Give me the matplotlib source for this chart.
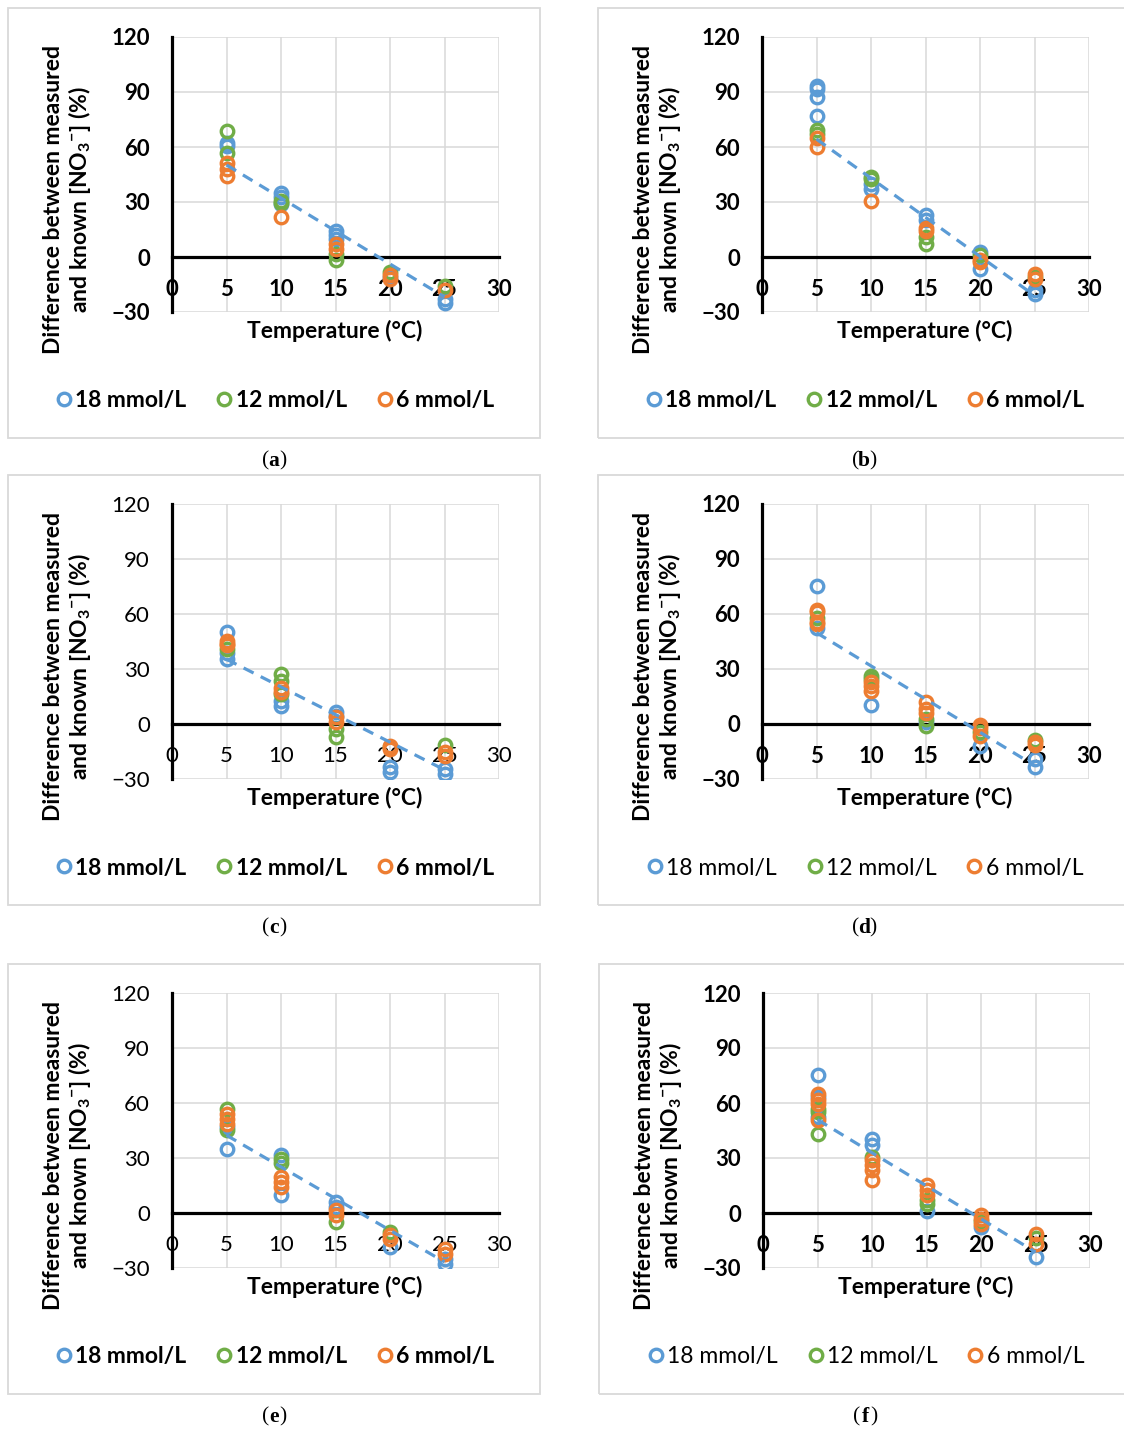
import matplotlib
matplotlib.use("Agg")
import matplotlib.pyplot as plt
from matplotlib.patches import Rectangle

plt.rcParams['font.family'] = ['Lato', 'DejaVu Sans']
plt.rcParams['mathtext.fontset'] = 'custom'
plt.rcParams['mathtext.rm'] = 'Lato:bold'
plt.rcParams['mathtext.default'] = 'rm'

W, H = 1124, 1432

series_names = ['18 mmol/L', '12 mmol/L', '6 mmol/L']
series_colors = ['#5B9BD5', '#70AD47', '#ED7D31']
trend_x = [5, 25]
x_ticks = [0, 5, 10, 15, 20, 25, 30]
y_ticks = [-30, 0, 30, 60, 90, 120]

# panel (a)
a18_t = [5, 5, 10, 10, 10, 15, 15, 15, 20, 25, 25]
a18_v = [62, 60.7, 35, 32.6, 29, 14, 11.8, 10, -11, -22.7, -25]
a12_t = [5, 5, 10, 10, 15, 15, 20, 25]
a12_v = [68.9, 56.5, 30.8, 29.4, 1.8, -1.5, -8, -16]
a6_t = [5, 5, 5, 10, 15, 15, 20, 20, 25]
a6_v = [51, 48, 44, 21.7, 7, 4.5, -10, -12, -18]
a_trend = [50.2, -21.8]

# panel (b)
b18_t = [5, 5, 5, 5, 10, 10, 15, 15, 20, 20, 25, 25]
b18_v = [93, 91.5, 87.4, 77, 39.9, 37.2, 23, 20, 2.7, -6.3, -18, -20]
b12_t = [5, 5, 10, 10, 15, 15, 20, 25]
b12_v = [69.2, 67, 43.9, 42.6, 10.9, 7.3, 0.9, -10.9]
b6_t = [5, 5, 10, 15, 15, 20, 20, 25, 25]
b6_v = [64.7, 59.8, 30.8, 16, 14, -1.5, -2.7, -9, -11.8]
b_trend = [64.3, -21]

# panel (c)
c18_t = [5, 5, 5, 10, 10, 15, 15, 20, 20, 25, 25]
c18_v = [50, 38.9, 35.3, 12.7, 10, 6.3, 4.5, -23.5, -26.2, -24.4, -27.1]
c12_t = [5, 10, 10, 10, 15, 15, 20, 25]
c12_v = [41, 27, 23.5, 16.3, -2.7, -7.2, -12.7, -11.4]
c6_t = [5, 5, 5, 10, 10, 15, 15, 20, 20, 25, 25]
c6_v = [45.2, 43.4, 43, 19.9, 17.2, 3.6, 0.9, -11.8, -13.6, -15.4, -17.2]
c_trend = [35.3, -25]

# panel (d)
d18_t = [5, 5, 10, 15, 20, 25, 25]
d18_v = [75.1, 52.5, 10.3, 0.9, -11.8, -19, -23.5]
d12_t = [5, 10, 10, 15, 15, 20, 25]
d12_v = [57.9, 26.2, 24.4, 2.7, -0.9, -4.5, -9]
d6_t = [5, 5, 5, 5, 10, 10, 10, 15, 15, 15, 20, 20, 20, 25, 25]
d6_v = [62.4, 61, 55.6, 54.8, 23, 20.8, 18.1, 12.1, 8.1, 6, -0.5, -2.4, -6.3, -9.6, -11.4]
d_trend = [49.8, -22.6]

# panel (e)
e18_t = [5, 5, 10, 10, 15, 15, 20, 25, 25]
e18_v = [47, 35.1, 31.5, 9.6, 6, 3.3, -18.5, -24.9, -27.6]
e12_t = [5, 5, 10, 10, 15, 20]
e12_v = [56.9, 45.5, 29.6, 27.3, -4.9, -10.4]
e6_t = [5, 5, 5, 10, 10, 10, 15, 15, 20, 20, 25, 25]
e6_v = [54.2, 51.5, 48.7, 19.6, 16.9, 14.2, 1.5, -1.3, -12.2, -14, -19.5, -22.2]
e_trend = [42.4, -26.7]

# panel (f)
f18_t = [5, 5, 5, 10, 10, 15, 20, 25]
f18_v = [75.5, 63.3, 52.4, 40.5, 36.9, 0.9, -7.6, -24]
f12_t = [5, 5, 5, 10, 15, 15, 20, 25]
f12_v = [56.9, 55.1, 43.3, 30.5, 6.9, 5.1, -4.4, -13.5]
f6_t = [5, 5, 5, 5, 10, 10, 10, 10, 15, 15, 15, 20, 20, 20, 25, 25]
f6_v = [64.7, 61.8, 59.3, 50.5, 28.7, 26, 23.3, 18.2, 15.1, 12.4, 9.6, -1.3, -3.1, -5.8, -11.6, -16.7]
f_trend = [50.9, -21.3]


def fx(px):
    return px / W


def fy(py):
    return 1 - py / H


def drawPanel(fig, left, top, letter, data, trend, tickBold, legendBold):
    # left/top: pixel position of x=0 and y=120
    ax = fig.add_axes([fx(left), fy(top + 275), fx(327), 275 / H])
    ax.set_xlim(0, 30)
    ax.set_ylim(-30, 120)
    ax.set_xticks(x_ticks)
    ax.set_yticks(y_ticks)
    ax.grid(True, color='#D9D9D9', linewidth=1.1)
    ax.set_axisbelow(True)
    for s in ['top', 'right']:
        ax.spines[s].set_visible(False)
    ax.spines['bottom'].set_position(('data', 0))
    for s in ['bottom', 'left']:
        ax.spines[s].set_color('black')
        ax.spines[s].set_linewidth(2.3)
    ax.tick_params(length=0, pad=16, labelsize=16)
    w = 'bold' if tickBold else 'normal'
    for lab in ax.get_xticklabels() + ax.get_yticklabels():
        lab.set_fontweight(w)

    for (t, v), name, col in zip(data, series_names, series_colors):
        ax.plot(t, v, 'o', linestyle='none', markerfacecolor='none', markeredgecolor=col,
                markersize=9, markeredgewidth=2.4, label=name, zorder=3)
    ax.plot(trend_x, trend, color='#5B9BD5', linewidth=2.3, linestyle=(0, (3.5, 2.5)), zorder=4)

    fig.text(fx(left + 163), fy(top + 294), 'Temperature (°C)', ha='center', va='center',
             fontsize=16.5, fontweight='bold')
    fig.text(fx(left - 104), fy(top + 163),
             'Difference between measured\nand known [NO$_{3}{}^{-}$] (%)', rotation=90,
             ha='center', va='center', fontsize=16.5, fontweight='bold',
             multialignment='center', linespacing=1.1)

    ax.legend(loc='center', bbox_to_anchor=(fx(left + 103), fy(top + 364)),
              bbox_transform=fig.transFigure, ncol=3, frameon=False,
              handlelength=0.7, handletextpad=0.15, columnspacing=1.3,
              prop={'size': 16.5, 'weight': 'bold' if legendBold else 'normal'})

    fig.patches.append(Rectangle((fx(left - 164), fy(top + 401)), fx(532), 430 / H,
                                 transform=fig.transFigure, fill=False,
                                 edgecolor='#D9D9D9', linewidth=1.3))

    cx, cy = fx(left + 102), fy(top + 424)
    fig.text(cx, cy, letter, ha='center', va='center', fontsize=15.5, fontweight='bold',
             family='Liberation Serif')
    fig.text(cx - 5 / W, cy, '(', ha='right', va='center', fontsize=15.5, family='Liberation Serif')
    fig.text(cx + 5 / W, cy, ')', ha='left', va='center', fontsize=15.5, family='Liberation Serif')
    return ax


def main():
    fig = plt.figure(figsize=(W / 100, H / 100), dpi=100)
    fig.patch.set_facecolor('white')

    drawPanel(fig, 172, 37, 'a', [(a18_t, a18_v), (a12_t, a12_v), (a6_t, a6_v)], a_trend, True, True)
    drawPanel(fig, 762, 37, 'b', [(b18_t, b18_v), (b12_t, b12_v), (b6_t, b6_v)], b_trend, True, True)
    drawPanel(fig, 172, 504, 'c', [(c18_t, c18_v), (c12_t, c12_v), (c6_t, c6_v)], c_trend, False, True)
    drawPanel(fig, 762, 504, 'd', [(d18_t, d18_v), (d12_t, d12_v), (d6_t, d6_v)], d_trend, True, False)
    drawPanel(fig, 172, 993, 'e', [(e18_t, e18_v), (e12_t, e12_v), (e6_t, e6_v)], e_trend, False, True)
    drawPanel(fig, 763, 993, 'f', [(f18_t, f18_v), (f12_t, f12_v), (f6_t, f6_v)], f_trend, True, False)

    fig.savefig('out.png', dpi=100)


if __name__ == '__main__':
    main()
